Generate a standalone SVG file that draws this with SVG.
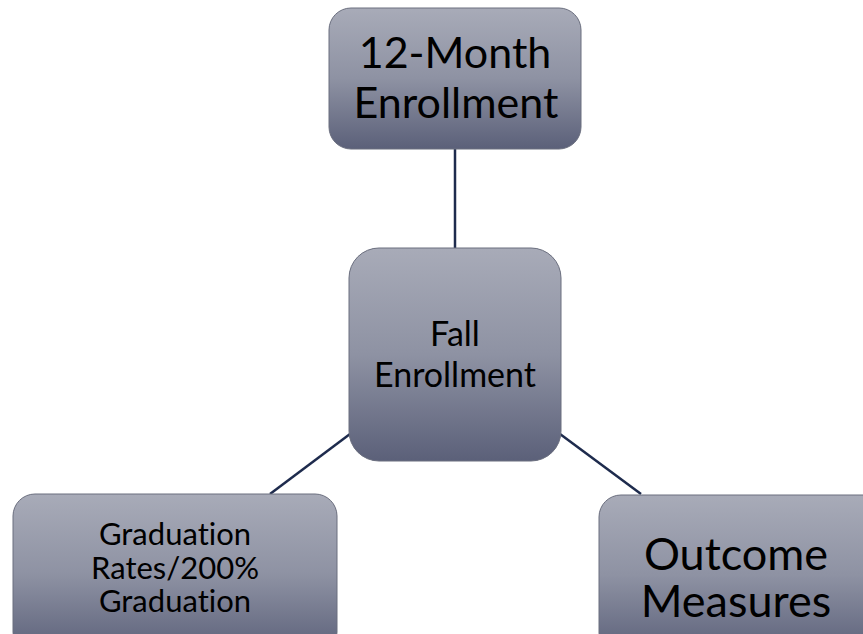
<svg xmlns="http://www.w3.org/2000/svg" width="863" height="634" viewBox="0 0 863 634">
<defs>
<linearGradient id="g" x1="0" y1="0" x2="0" y2="1">
<stop offset="0" stop-color="#a8abb8"/>
<stop offset="0.5" stop-color="#8e92a3"/>
<stop offset="1" stop-color="#5b6079"/>
</linearGradient>
</defs>
<style>
.box{fill:url(#g);stroke:#6a6e7e;stroke-width:1}
.t{font-family:"Lato","Liberation Sans",sans-serif;fill:#000;text-anchor:middle;font-variant-ligatures:none;font-feature-settings:"liga" 0}
.c{stroke:#1e2b4d;stroke-width:2.5;fill:none}
</style>
<rect width="863" height="634" fill="#fff"/>
<g id="connectors">
<line class="c" x1="455" y1="148" x2="455" y2="248"/>
<line class="c" x1="350" y1="434" x2="270" y2="494"/>
<line class="c" x1="560" y1="434" x2="641" y2="494"/>
</g>
<g id="n12month">
<rect class="box" x="329" y="8" width="252" height="141" rx="22"/>
<text class="t" font-size="43" x="455" y="68">12-Month</text>
<text class="t" font-size="43" x="456" y="118">Enrollment</text>
</g>
<g id="nfall">
<rect class="box" x="349" y="248" width="212" height="213" rx="30"/>
<text class="t" font-size="34" x="455" y="346">Fall</text>
<text class="t" font-size="34" x="455" y="387">Enrollment</text>
</g>
<g id="ngrad">
<rect class="box" x="13" y="494" width="324" height="160" rx="22"/>
<text class="t" font-size="31" x="175" y="545">Graduation</text>
<text class="t" font-size="31" x="175" y="579">Rates/200%</text>
<text class="t" font-size="31" x="175" y="612">Graduation</text>
</g>
<g id="noutcome">
<rect class="box" x="599" y="495" width="290" height="160" rx="22"/>
<text class="t" font-size="45" x="736" y="570">Outcome</text>
<text class="t" font-size="45" x="736" y="617">Measures</text>
</g>
</svg>
